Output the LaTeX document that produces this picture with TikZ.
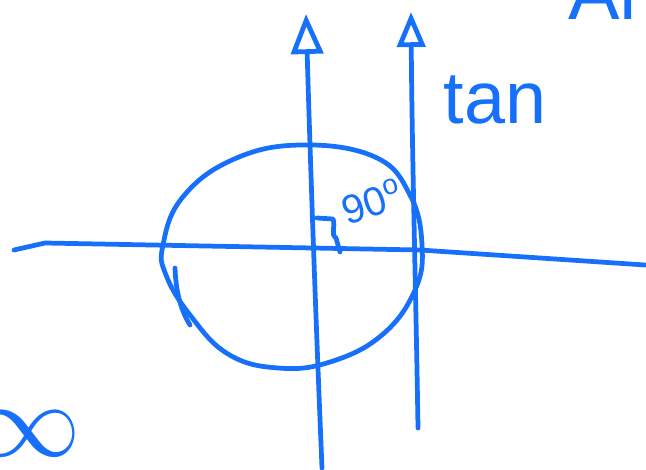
\documentclass[tikz,border=0pt]{standalone}
\usepackage{fontspec}
\setmainfont{Liberation Sans}
\usetikzlibrary{arrows.meta}
\definecolor{penblue}{RGB}{22,112,250}
\tikzset{pen/.style={penblue,line width=2.7pt,line cap=round,line join=round},
  hand/.style={penblue,inner sep=0pt}}
\begin{document}
\begin{tikzpicture}[x=0.02cm,y=-0.02cm]
 \useasboundingbox (0,0) rectangle (646,470);
 \clip (0,0) rectangle (646,470);
 % axes
 \coordinate (xl) at (14,250);
 \coordinate (xr) at (645,265);
 \coordinate (yb) at (322,468);
 \coordinate (yt) at (306,14);
 \coordinate (tb) at (418,428);
 \coordinate (tt) at (411,12);
 \draw [pen] (xl) -- (45,243) -- (420,250) -- (xr);
 \draw [pen,-{Triangle[open,length=0.8cm,width=0.64cm,line width=2.7pt]}] (yb) .. controls (315,300) and (310,150) .. (yt);
 \draw [pen,-{Triangle[open,length=0.7cm,width=0.56cm,line width=2.7pt]}] (tb) .. controls (416,300) and (412,150) .. (tt);
 % circle
 \draw [pen] plot [smooth cycle,tension=0.7] coordinates {(163,245) (182,198) (232,160) (300,145) (375,157) (410,195) (422,245) (415,290) (382,335) (330,362) (278,368) (228,354) (190,315) (166,275)};
 \draw [pen] (175,268) .. controls (176,295) and (182,312) .. (190,325);
 % right angle
 \draw [pen] (317,218) -- (333,219) .. controls (336,226) and (330,234) .. (336,238) -- (340,252);
 \node [hand,font=\fontsize{23}{28}\selectfont,rotate=18] (angle) at (372,201) {90\textsuperscript{o}};
 \node [hand,font=\fontsize{42}{48}\selectfont] (tan) at (495,100) {tan};
 \node [hand,font=\fontsize{44}{50}\selectfont,anchor=base west] (ans) at (568,19) {Am};
 \node [hand,scale=6] (inf) at (28,434) {$\infty$};
\end{tikzpicture}
\end{document}
